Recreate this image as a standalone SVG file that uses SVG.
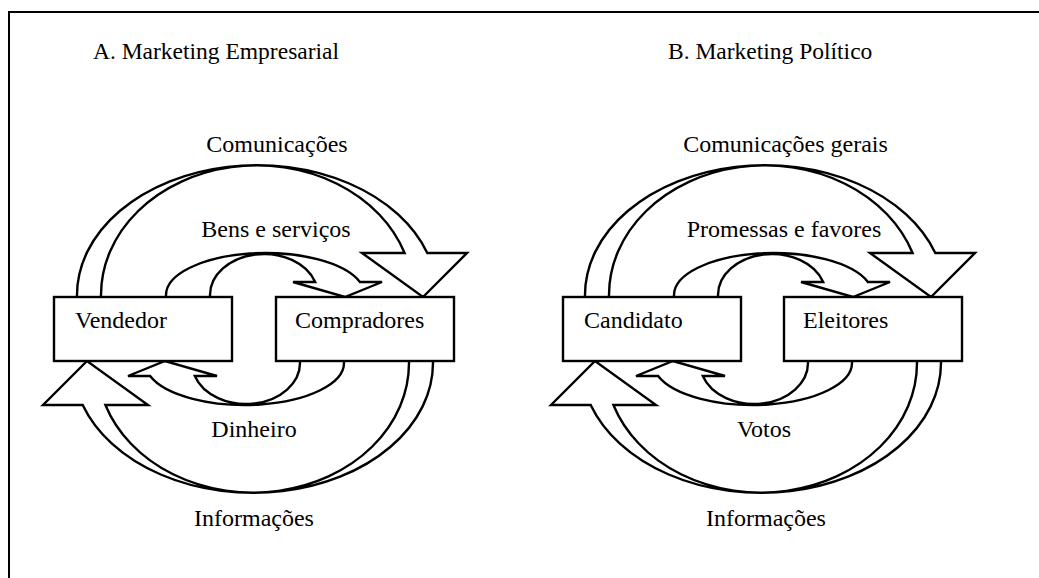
<svg xmlns="http://www.w3.org/2000/svg" xmlns:xlink="http://www.w3.org/1999/xlink" width="1039" height="578" viewBox="0 0 1039 578">
<style>
.shape{fill:#fff;stroke:#000;stroke-width:2.4;stroke-linejoin:miter}
.box{fill:#fff;stroke:#000;stroke-width:2.4}
.t{font-family:"Liberation Serif","Times New Roman",serif;font-size:24px;fill:#000}
.title{font-family:"Liberation Serif","Times New Roman",serif;font-size:23.5px;fill:#000}
.frame{fill:none;stroke:#000;stroke-width:2}
</style>
<defs>
<path id="bigArrow" class="shape" d="M77,298 L77,295 A180,130 0 0 1 427.3,253 L467,253 L423,297 L362,253 L404.6,253 A156,129.5 0 0 0 101,295 L101,298"/>
<path id="smallArrow" class="shape" d="M166,298 L166,295 A99.4,42 0 0 1 359.9,282 L382,282 L345,297 L293,282 L315.2,282 A54,41 0 0 0 210,295 L210,298"/>
</defs>
<path class="frame" d="M9,578 L9,12 L1039,12"/>
<text class="title" x="93" y="59">A. Marketing Empresarial</text>
<text class="title" x="668" y="59">B. Marketing Político</text>
<g id="connectors">
<use xlink:href="#bigArrow" href="#bigArrow"/>
<use xlink:href="#smallArrow" href="#smallArrow"/>
<use xlink:href="#bigArrow" href="#bigArrow" transform="rotate(180 255 329)"/>
<use xlink:href="#smallArrow" href="#smallArrow" transform="rotate(180 255 329)"/>
<use xlink:href="#bigArrow" href="#bigArrow" transform="translate(508,0)"/>
<use xlink:href="#smallArrow" href="#smallArrow" transform="translate(508,0)"/>
<use xlink:href="#bigArrow" href="#bigArrow" transform="translate(508,0) rotate(180 255 329)"/>
<use xlink:href="#smallArrow" href="#smallArrow" transform="translate(508,0) rotate(180 255 329)"/>
</g>
<g id="labels">
<text class="t" x="277" y="152" text-anchor="middle">Comunicações</text>
<text class="t" x="276" y="237" text-anchor="middle">Bens e serviços</text>
<text class="t" x="254" y="437" text-anchor="middle">Dinheiro</text>
<text class="t" x="254" y="526" text-anchor="middle">Informações</text>
<text class="t" x="785.5" y="152" text-anchor="middle">Comunicações gerais</text>
<text class="t" x="784" y="237" text-anchor="middle">Promessas e favores</text>
<text class="t" x="764" y="437" text-anchor="middle">Votos</text>
<text class="t" x="766" y="526" text-anchor="middle">Informações</text>
</g>
<g id="vendedor">
<rect class="box" x="54" y="297" width="178" height="64"/>
<text class="t" x="75" y="328">Vendedor</text>
</g>
<g id="compradores">
<rect class="box" x="276" y="297" width="178" height="64"/>
<text class="t" x="295" y="328">Compradores</text>
</g>
<g id="candidato">
<rect class="box" x="563" y="297" width="178" height="64"/>
<text class="t" x="584" y="328">Candidato</text>
</g>
<g id="eleitores">
<rect class="box" x="784" y="297" width="178" height="64"/>
<text class="t" x="803" y="328">Eleitores</text>
</g>
</svg>
